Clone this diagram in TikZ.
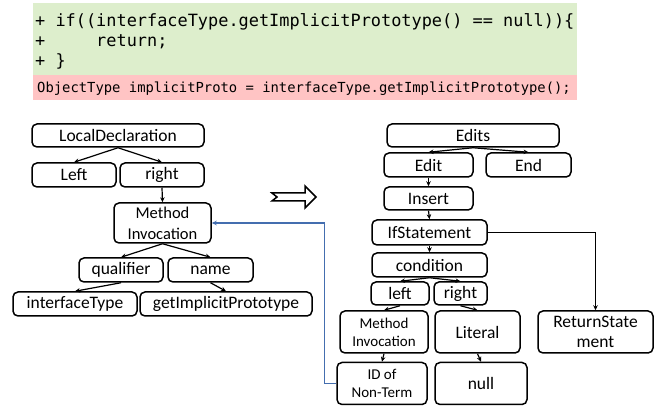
\documentclass[tikz,border=0pt]{standalone}
\usepackage{fontspec}
\setmainfont{Carlito}
\newfontfamily\codefont{DejaVu Sans Mono}
\usetikzlibrary{arrows.meta}
\definecolor{codegreen}{RGB}{221,238,204}
\definecolor{codepink}{RGB}{255,196,196}
\definecolor{linkblue}{RGB}{68,110,175}
\tikzset{
  box/.style={draw=black, line width=1.5pt, rounded corners=5pt, inner sep=0pt, align=center,
    font=\fontsize{17.5}{20}\selectfont},
  smallbox/.style={box, font=\fontsize{15}{18}\selectfont},
  midbox/.style={box, font=\fontsize{16.5}{21}\selectfont},
  arr/.style={draw=black, line width=1.2pt, -{Stealth[length=5pt,width=4.5pt]}},
  bluearr/.style={draw=linkblue, line width=1.4pt, -{Stealth[length=5pt,width=4.5pt]}},
  codeline/.style={anchor=base west, inner sep=0pt, font=\codefont\fontsize{16.9}{19}\selectfont},
  codelinesmall/.style={anchor=base west, inner sep=0pt, font=\codefont\fontsize{13.85}{16}\selectfont},
}
\begin{document}
\begin{tikzpicture}[x=1pt,y=-1pt]
\useasboundingbox (0,0) rectangle (657,406);
% code block
\fill[codegreen] (33,3) rectangle (577,75);
\fill[codepink] (33,75) rectangle (577,100);
\node[codeline] (c1) at (35,27) {+ if((interfaceType.getImplicitPrototype() == null))\{};
\node[codeline] (c2) at (35,47) {+\ \ \ \ \ return;};
\node[codeline] (c3) at (35,67) {+ \}};
\node[codelinesmall] (c4) at (37,92.5) {ObjectType implicitProto = interfaceType.getImplicitPrototype();};

% left tree
\node[box, minimum width=172pt, minimum height=23pt] (ld) at (118,135.5) {LocalDeclaration};
\node[box, minimum width=84pt, minimum height=24pt] (lleft) at (74,175) {Left};
\node[box, minimum width=84pt, minimum height=24pt] (lright) at (162,175) {right};
\node[midbox, minimum width=97pt, minimum height=40pt] (mi) at (162.5,223) {Method\\Invocation};
\node[box, minimum width=84pt, minimum height=24pt] (qual) at (121,270) {qualifier};
\node[box, minimum width=85pt, minimum height=24pt] (name) at (210.5,270) {name};
\node[box, minimum width=124pt, minimum height=24pt] (itype) at (75,304) {interfaceType};
\node[box, minimum width=172pt, minimum height=24pt] (gip) at (226,304) {getImplicitPrototype};

\draw[arr] (ld.south) -- (lleft.north);
\draw[arr] (ld.south) -- (lright.north);
\draw[arr] (lright.south) -- (mi.north);
\draw[arr] (mi.south) -- (qual.north);
\draw[arr] (mi.south) -- (name.north);
\draw[arr] (qual.south) -- (itype.north);
\draw[arr] (name.south) -- (gip.north);

% transformation arrow
\draw[line width=1.5pt, fill=white, line join=miter]
  (272,193) -- (305,193) -- (305,186) -- (316,197) -- (305,208) -- (305,201) -- (272,201) -- (277,197) -- cycle;

% right tree
\node[box, minimum width=172pt, minimum height=23pt] (edits) at (473,135.5) {Edits};
\node[box, minimum width=89pt, minimum height=24pt] (edit) at (428.5,165) {Edit};
\node[box, minimum width=85pt, minimum height=24pt] (end) at (528.5,165) {End};
\node[box, minimum width=89pt, minimum height=23pt] (insert) at (428.5,198.5) {Insert};
\node[box, minimum width=115pt, minimum height=25pt] (ifs) at (429.5,232.5) {IfStatement};
\node[box, minimum width=115pt, minimum height=24pt] (cond) at (429.5,265) {condition};
\node[box, minimum width=58pt, minimum height=23pt] (rleft) at (400,293.5) {left};
\node[box, minimum width=53pt, minimum height=23pt] (rright) at (460.5,293.5) {right};
\node[smallbox, minimum width=88pt, minimum height=42pt] (rmi) at (384,332) {Method\\Invocation};
\node[box, minimum width=85pt, minimum height=42pt] (lit) at (477.5,332) {Literal};
\node[box, minimum width=115pt, minimum height=42pt] (ret) at (595.5,332) {ReturnState\\ment};
\node[smallbox, minimum width=90pt, minimum height=42pt] (idnt) at (382,383.5) {ID of\\Non-Term};
\node[box, minimum width=92pt, minimum height=42pt] (nul) at (481,383.5) {null};

\draw[arr] (edits.south) -- (edit.north);
\draw[arr] (edits.south) -- (end.north);
\draw[arr] (edit.south) -- (insert.north);
\draw[arr] (insert.south) -- (ifs.north);
\draw[arr] (ifs.south) -- (cond.north);
\draw[arr] (cond.south) -- (rleft.north);
\draw[arr] (cond.south) -- (rright.north);
\draw[arr] (rleft.south) -- (rmi.north);
\draw[arr] (rright.south) -- (lit.north);
\draw[arr] (rmi.south) -- (idnt.north);
\draw[arr] (lit.south) -- (nul.north);
\draw[arr] (ifs.east) -| (ret.north);

% link back
\draw[bluearr] (idnt.west) -- ++(-12,0) |- (mi.east);
\end{tikzpicture}
\end{document}
